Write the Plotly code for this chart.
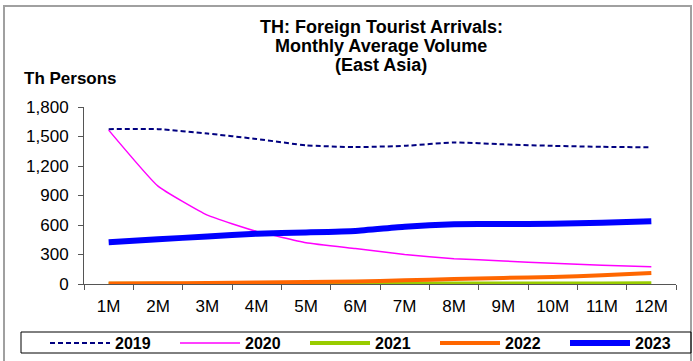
import plotly.graph_objects as go

months = ["1M", "2M", "3M", "4M", "5M", "6M", "7M", "8M", "9M", "10M", "11M", "12M"]
y2019 = [1575, 1575, 1530, 1475, 1410, 1392, 1405, 1440, 1420, 1405, 1395, 1390]
y2020 = [1565, 995, 700, 535, 420, 360, 300, 258, 234, 210, 190, 176]
y2021 = [3, 3, 3, 3, 4, 4, 5, 5, 5, 6, 6, 7]
y2022 = [5, 7, 10, 15, 20, 25, 38, 50, 62, 72, 88, 112]
y2023 = [424, 455, 483, 512, 525, 540, 583, 608, 610, 612, 622, 637]

series = [
    ("2019", y2019, dict(color="#000080", width=2, dash="5px,3px")),
    ("2020", y2020, dict(color="#FF00FF", width=1.5)),
    ("2021", y2021, dict(color="#99CC00", width=4)),
    ("2022", y2022, dict(color="#FF6600", width=4)),
    ("2023", y2023, dict(color="#0000FF", width=6)),
]

FONT = "Liberation Sans, Arial, sans-serif"
fig = go.Figure()
for name, vals, line in series:
    fig.add_trace(go.Scatter(x=months, y=vals, name=name, mode="lines",
                             line=dict(shape="spline", smoothing=0.4, **line)))

W, H = 693, 361
L, R, T, B = 84, 676, 107, 284

def px(x):
    return (x - L) / (R - L)

def py(y):
    return (B - y) / (B - T)

fig.update_layout(
    width=W, height=H,
    margin=dict(l=L, r=W - R, t=T, b=H - B, autoexpand=False),
    paper_bgcolor="white", plot_bgcolor="white",
    font=dict(family=FONT, color="black", size=16),
    showlegend=True,
    legend=dict(orientation="h", x=px(45), y=py(326), xanchor="left", yanchor="top",
                bgcolor="rgba(0,0,0,0)", borderwidth=0, entrywidth=55, itemwidth=60,
                font=dict(size=16, family=FONT, weight="bold"),
                tracegroupgap=0),
)
fig.update_xaxes(type="category", range=[-0.5, 11.5], showgrid=False,
                 showline=True, linecolor="#555555", linewidth=1,
                 ticks="outside", ticklen=5, tickcolor="#555555", tickson="boundaries",
                 tickfont=dict(size=17), ticklabelstandoff=7, zeroline=False)
fig.update_yaxes(range=[0, 1800], dtick=300, tickformat=",", showgrid=False,
                 showline=True, linecolor="#555555", linewidth=1,
                 ticks="outside", ticklen=5, tickcolor="#555555",
                 tickfont=dict(size=17), ticklabelstandoff=6, zeroline=False)

title_lines = ["TH: Foreign Tourist Arrivals:", "Monthly Average Volume", "(East Asia)"]
for i, t in enumerate(title_lines):
    fig.add_annotation(text=t, xref="paper", yref="paper", x=0.5017, y=py(27 + 19 * i),
                       xanchor="center", yanchor="middle", showarrow=False,
                       font=dict(size=18, family=FONT, weight="bold"))
fig.add_annotation(text="Th Persons", xref="paper", yref="paper", x=px(22), y=py(79),
                   xanchor="left", yanchor="middle", showarrow=False,
                   font=dict(size=17, family=FONT, weight="bold"))

fig.add_shape(type="rect", xref="paper", yref="paper", x0=px(4), x1=px(691),
              y0=py(362), y1=py(6), line=dict(color="#A0A0A0", width=2), layer="below")
fig.add_shape(type="rect", xref="paper", yref="paper", x0=px(21), x1=px(691),
              y0=py(353), y1=py(332), line=dict(color="black", width=1), layer="below")

fig.write_html("out.html", config={"displayModeBar": False},
               post_script="document.body.style.margin='0';")
